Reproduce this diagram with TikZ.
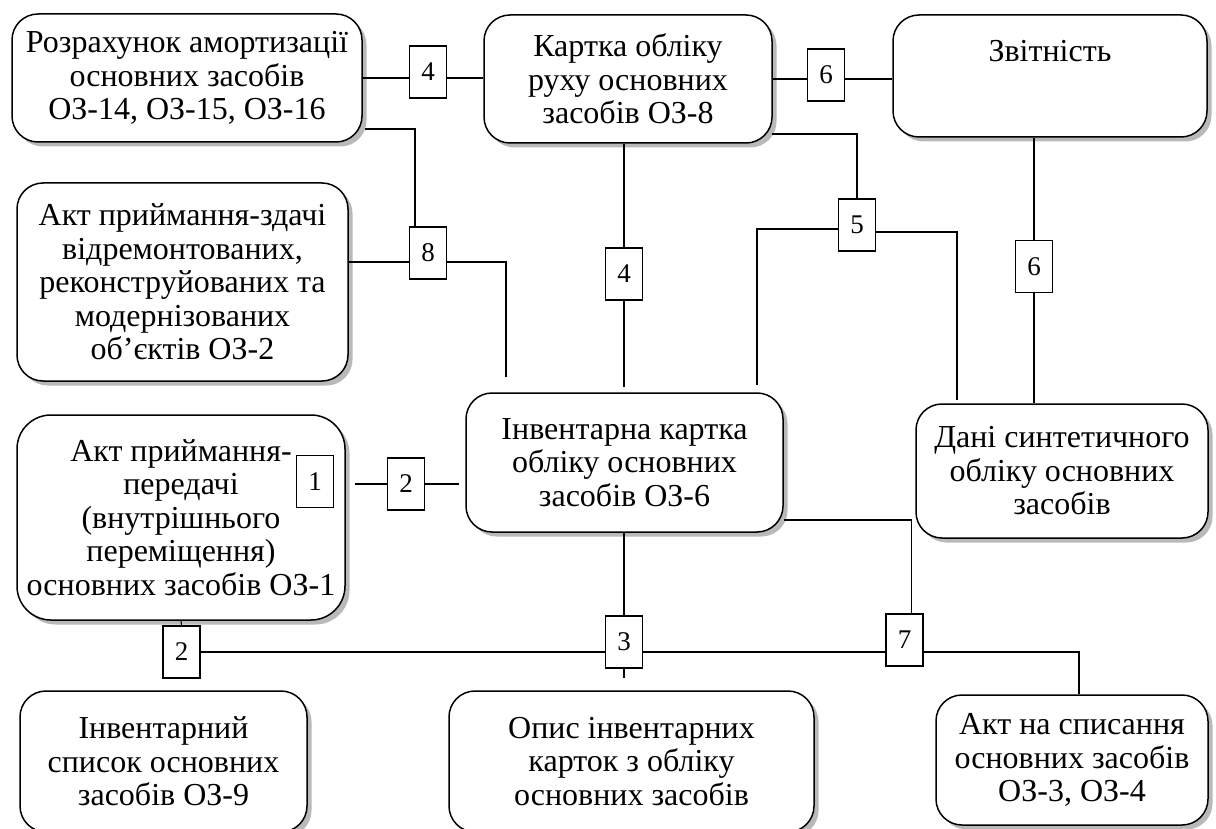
\documentclass[tikz,border=0pt]{standalone}
\usepackage{fontspec}
\setmainfont{Liberation Serif}
\usepackage{tikz}
\usetikzlibrary{positioning,calc,shadows}

\newcommand{\doctext}{\fontsize{32}{33.5}\selectfont}
\newcommand{\numtext}{\fontsize{27}{30}\selectfont}

\tikzset{
	doc/.style={draw, line width=1.5pt, rounded corners=26pt, fill=white, align=center, inner sep=1pt, font=\doctext,
		drop shadow={shadow xshift=4.5pt, shadow yshift=-4.5pt, fill=gray!55, opacity=1}},
	num/.style={draw, line width=1.1pt, fill=white, minimum width=37pt, minimum height=52pt, inner sep=0pt, font=\numtext},
	link/.style={line width=1.1pt},
}

\begin{document}
\begin{tikzpicture}[x=1pt, y=-1pt]
	\useasboundingbox (0,0) rectangle (1216,829);
	% documents
	\node[doc, minimum width=350pt, minimum height=128pt] (amort) at (187,78) {Розрахунок амортизації\\основних засобів\\ОЗ-14, ОЗ-15, ОЗ-16};
	\node[doc, minimum width=288pt, minimum height=128pt] (rukh) at (628,79) {Картка обліку\\руху основних\\засобів ОЗ-8};
	\node[doc, minimum width=314pt, minimum height=122pt] (zvit) at (1050,76) {Звітність\\[16pt]};
	\node[doc, minimum width=331pt, minimum height=198pt] (remont) at (182.5,282) {Акт приймання-здачі\\відремонтованих,\\реконструйованих та\\модернізованих\\об’єктів ОЗ-2};
	\node[doc, minimum width=317pt, minimum height=139pt] (invkart) at (624.5,462.5) {Інвентарна картка\\обліку основних\\засобів ОЗ-6};
	\node[doc, minimum width=292pt, minimum height=134pt] (synt) at (1062,471) {Дані синтетичного\\обліку основних\\засобів};
	\node[doc, minimum width=328pt, minimum height=205pt, rounded corners=34pt] (peredacha) at (181,517.5) {Акт приймання-\\передачі\\(внутрішнього\\переміщення)\\основних засобів ОЗ-1};
	\node[doc, minimum width=287pt, minimum height=141pt] (spysok) at (163.5,761.5) {Інвентарний\\список основних\\засобів ОЗ-9};
	\node[doc, minimum width=365pt, minimum height=141pt] (opys) at (631.5,761.5) {Опис інвентарних\\карток з обліку\\основних засобів};
	\node[doc, minimum width=272pt, minimum height=130pt] (spysannia) at (1072,760) {Акт на списання\\основних засобів\\ОЗ-3, ОЗ-4};
	% numbered links
	\node[num] (n4a) at (428,72) {4};
	\node[num] (n6a) at (826,75) {6};
	\node[num] (n8) at (428,253) {8};
	\node[num] (n5) at (857,225) {5};
	\node[num] (n4b) at (624,274) {4};
	\node[num] (n6b) at (1034,266.5) {6};
	\node[num] (n1) at (315,481.5) {1};
	\node[num] (n2a) at (406,484) {2};
	\node[num] (n2b) at (181.5,652) {2};
	\node[num] (n3) at (624,642) {3};
	\node[num] (n7) at (904.5,640) {7};
	% free ends
	\coordinate (a8) at (365,129);
	\coordinate (e8) at (506,377);
	\coordinate (b5) at (772,134);
	\coordinate (e5l) at (757,385);
	\coordinate (e5r) at (957,400);
	\coordinate (e4) at (624,387);
	\coordinate (s2l) at (355,484);
	\coordinate (s2r) at (459,484);
	\coordinate (e3) at (624,678);
	\coordinate (d7) at (784,520);
	% connectors
	\draw[link] (amort.east) -- (amort.east -| n4a.west);
	\draw[link] (n4a.east |- amort.east) -- (rukh.west |- amort.east);
	\draw[link] (rukh.east) -- (rukh.east -| n6a.west);
	\draw[link] (n6a.east |- rukh.east) -- (zvit.west |- rukh.east);
	\draw[link] (a8) -| ([xshift=-13pt]n8.north);
	\draw[link] ([yshift=-9pt]n8.west) -- ([yshift=-9pt]n8.west -| remont.east);
	\draw[link] ([yshift=-9pt]n8.east) -| (e8);
	\draw[link] (b5) -| (n5.north);
	\draw[link] ([yshift=-4pt]n5.west) -| (e5l);
	\draw[link] ([yshift=-7pt]n5.east) -| (e5r);
	\draw[link] (rukh.south -| n4b.north) -- (n4b.north);
	\draw[link] (n4b.south) -- (e4);
	\draw[link] (zvit.south -| n6b.north) -- (n6b.north);
	\draw[link] (n6b.south) -- (n6b.south |- synt.north);
	\draw[link] (s2l) -- (n2a.west);
	\draw[link] (n2a.east) -- (s2r);
	\draw[link] (peredacha.south) -- (n2b.north);
	\draw[link] (n2b.east) -- (n2b.east -| n3.west);
	\draw[link] (n3.east |- n2b.east) -- (n7.west |- n2b.east);
	\draw[link] (n7.east |- n2b.east) -| ([xshift=7pt]spysannia.north);
	\draw[link] (invkart.south -| n3.north) -- (n3.north);
	\draw[link] (n3.south) -- (e3);
	\draw[link] (d7) -| ([xshift=7pt]n7.north);
\end{tikzpicture}
\end{document}
